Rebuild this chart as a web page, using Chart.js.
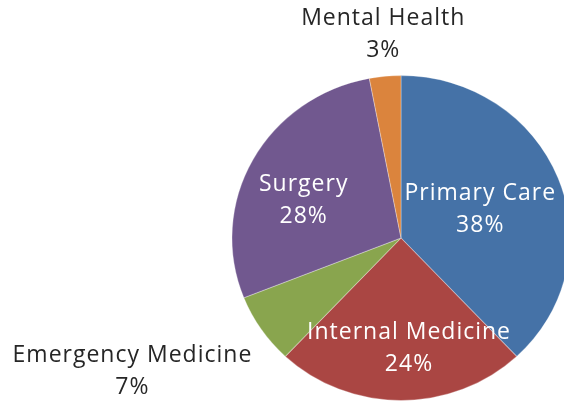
<!DOCTYPE html>
<html>
<head>
<meta charset="utf-8">
<script src="https://cdn.jsdelivr.net/npm/chart.js@4"></script>
<style>
    body { margin: 0; background: #fff; overflow: hidden; }
    canvas { display: block; }
</style>
</head>
<body>
<canvas id="pieChart" width="564" height="402"></canvas>
<script>
// chart data
let categories = ["Primary Care", "Internal Medicine", "Emergency Medicine", "Surgery", "Mental Health"];
let shares = [38, 24, 7, 28, 3];
let sliceColors = ["#4572A7", "#AA4643", "#89A54E", "#71588F", "#DB843D"];

// label placement: radial factor, angle tweak (deg), inside slice?
let labelPlace = [
    { k: 0.50, da: 1.3, inside: true },
    { k: 0.68, da: -4, inside: true },
    { k: 1.79, da: 6.8, inside: false },
    { k: 0.62, da: -7, inside: true },
    { k: 1.255, da: 0.6, inside: false }
];

let stretchX = 1.04; // the original pie is a bit wider than tall

function arcCenter(chart) {
    let arc = chart.getDatasetMeta(0).data[0];
    return { x: arc.x, y: arc.y, r: arc.outerRadius };
}

let stretchPlugin = {
    id: "stretch",
    beforeDatasetsDraw(chart) {
        let c = arcCenter(chart);
        let ctx = chart.ctx;
        ctx.save();
        ctx.translate(c.x, c.y);
        ctx.scale(stretchX, 1);
        ctx.translate(-c.x, -c.y);
    },
    afterDatasetsDraw(chart) {
        chart.ctx.restore();
    }
};

let labelPlugin = {
    id: "sliceLabels",
    afterDraw(chart) {
        let ctx = chart.ctx;
        let meta = chart.getDatasetMeta(0);
        ctx.save();
        ctx.font = "23px 'Open Sans'";
        ctx.letterSpacing = "1px";
        ctx.textAlign = "center";
        ctx.textBaseline = "middle";
        meta.data.forEach((arc, i) => {
            let p = labelPlace[i];
            let mid = (arc.startAngle + arc.endAngle) / 2 + p.da * Math.PI / 180;
            let x = arc.x + Math.cos(mid) * arc.outerRadius * p.k * stretchX;
            let y = arc.y + Math.sin(mid) * arc.outerRadius * p.k;
            ctx.fillStyle = p.inside ? "#ffffff" : "#262626";
            ctx.fillText(categories[i], x, y - 16);
            ctx.fillText(shares[i] + "%", x, y + 16);
        });
        ctx.restore();
    }
};

let ctx = document.getElementById("pieChart").getContext("2d");
new Chart(ctx, {
    type: "pie",
    data: {
        labels: categories,
        datasets: [{
            data: shares,
            backgroundColor: sliceColors,
            borderColor: "rgba(255,255,255,0.3)",
            borderWidth: 1
        }]
    },
    options: {
        responsive: false,
        animation: false,
        layout: { padding: { left: 238, right: 0, top: 75, bottom: 1 } },
        plugins: {
            legend: { display: false },
            tooltip: { enabled: false }
        }
    },
    plugins: [stretchPlugin, labelPlugin]
});
</script>
</body>
</html>
